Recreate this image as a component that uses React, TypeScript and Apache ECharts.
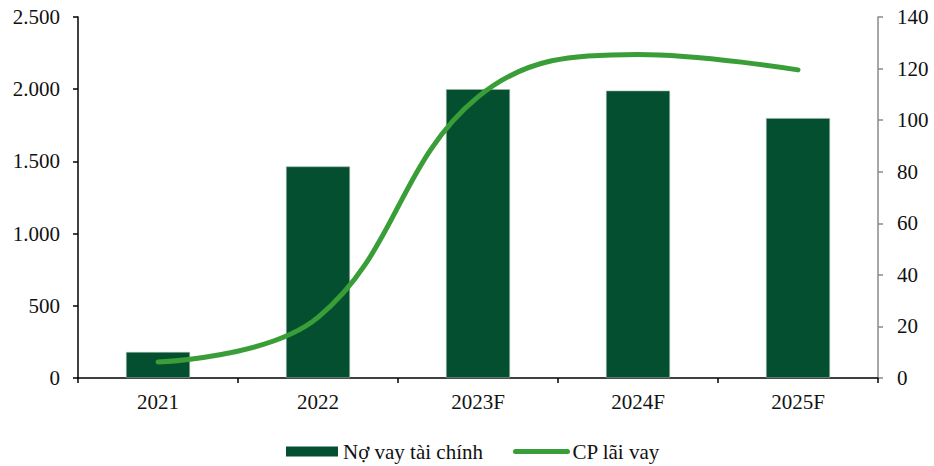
import React, { useEffect, useRef } from "react";
import * as echarts from "echarts";

// Years shown on the category axis
const years = ["2021", "2022", "2023F", "2024F", "2025F"];
// Financial debt (left axis)
const debt = [180, 1465, 2000, 1990, 1800];
// Interest expense (right axis)
const interestCost = [6.2, 23.5, 109, 125.5, 119.5];

const BAR_COLOR = "#034f2f";
const LINE_COLOR = "#3a9e38";
const FONT = "Liberation Serif";
const FONT_SIZE = 21;

export default function App() {
  const ref = useRef<HTMLDivElement>(null);

  useEffect(() => {
    if (!ref.current) return;
    const chart = echarts.init(ref.current, undefined, { renderer: "svg" });
    chart.setOption({
      animation: false,
      backgroundColor: "#ffffff",
      textStyle: { fontFamily: FONT },
      grid: { left: 78, right: 56, top: 17, bottom: 88, containLabel: false },
      legend: {
        left: 286,
        top: 441,
        padding: 0,
        itemGap: 30,
        itemWidth: 52,
        itemHeight: 10,
        textStyle: { fontFamily: FONT, fontSize: FONT_SIZE, color: "#111" },
        data: [
          { name: "Nợ vay tài chính", icon: "rect", itemStyle: { borderWidth: 0, color: BAR_COLOR } },
          {
            name: "CP lãi vay",
            lineStyle: { width: 5, cap: "round", color: LINE_COLOR },
            itemStyle: { opacity: 0, color: "transparent", borderWidth: 0 },
          },
        ],
      },
      xAxis: {
        type: "category",
        data: years,
        boundaryGap: true,
        axisLine: { lineStyle: { color: "#000", width: 1.5 } },
        axisTick: { show: true, inside: false, length: 5, lineStyle: { color: "#000", width: 1.5 } },
        axisLabel: { fontFamily: FONT, fontSize: FONT_SIZE, color: "#111", margin: 13 },
      },
      yAxis: [
        {
          type: "value",
          min: 0,
          max: 2500,
          interval: 500,
          splitLine: { show: false },
          axisLine: { show: true, lineStyle: { color: "#000", width: 1.5 } },
          axisTick: { show: true, length: 5, lineStyle: { color: "#000", width: 1.5 } },
          axisLabel: {
            fontFamily: FONT,
            fontSize: FONT_SIZE,
            color: "#111",
            margin: 18,
            formatter: (v: number) => v.toLocaleString("de-DE"),
          },
        },
        {
          type: "value",
          position: "right",
          min: 0,
          max: 140,
          interval: 20,
          splitLine: { show: false },
          axisLine: { show: true, lineStyle: { color: "#8a8a8a", width: 1.5 } },
          axisTick: { show: true, length: 5, lineStyle: { color: "#8a8a8a", width: 1.5 } },
          axisLabel: { fontFamily: FONT, fontSize: FONT_SIZE, color: "#111", margin: 19 },
        },
      ],
      series: [
        {
          name: "Nợ vay tài chính",
          type: "bar",
          data: debt,
          barWidth: 64,
          itemStyle: { color: BAR_COLOR, borderColor: "#9fb5a8", borderWidth: 0.6 },
        },
        {
          name: "CP lãi vay",
          type: "line",
          yAxisIndex: 1,
          data: interestCost,
          smooth: 0.4,
          symbol: "none",
          lineStyle: { color: LINE_COLOR, width: 5, cap: "round" },
          itemStyle: { color: LINE_COLOR },
        },
      ],
    });
    return () => chart.dispose();
  }, []);

  return (
    <div
      ref={ref}
      style={{ position: "fixed", left: 0, top: 0, width: 934, height: 466, background: "#fff" }}
    />
  );
}
